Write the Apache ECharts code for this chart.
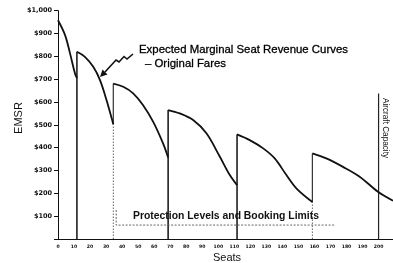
<!DOCTYPE html>
<html>
<head>
<meta charset="utf-8">
<script src="https://cdn.jsdelivr.net/npm/echarts@6/dist/echarts.min.js"></script>
<style>html,body{margin:0;padding:0;background:#fff;}#c{width:393px;height:263px;}</style>
</head>
<body>
<div id="c"></div>
<script>
// Sawtooth EMSR curve segments (seats, EMSR $)
var seg1Seats = [0, 4.4, 7.5, 10.6, 11.8];
var seg1Emsr  = [958, 893, 813, 725, 705];
var seg2Seats = [11.8, 16.8, 22, 26.2, 30.3, 33.8, 34.5];
var seg2Emsr  = [820, 798, 754, 696, 608, 521, 503];
var seg3Seats = [34.5, 40.7, 46.9, 53.1, 59.4, 65.6, 68.7];
var seg3Emsr  = [681, 667, 638, 586, 513, 418, 357];
var seg4Seats = [68.7, 76, 84.3, 92.6, 101, 107.2, 111.7];
var seg4Emsr  = [565, 550, 521, 463, 360, 280, 236];
var seg5Seats = [111.7, 119.6, 128, 135.2, 142.5, 148.7, 158.7];
var seg5Emsr  = [458, 433, 397, 353, 280, 222, 162];
var seg6Seats = [158.7, 167.4, 177.8, 188.2, 199.6, 209];
var seg6Emsr  = [375, 353, 316, 273, 207, 168];

// Protection level vertical lines (seat, top value, dotted?)
var protSeats  = [11.8, 34.5, 68.7, 111.7, 158.7];
var protTops   = [820, 503, 565, 458, 162];
var protDotted = [false, true, false, false, true];
// Solid vertical jumps where the protection line is dotted (seat, from, to)
var jumpSeats = [34.5, 158.7];
var jumpFrom  = [503, 162];
var jumpTo    = [681, 375];
var capacitySeat = 200;
var capacityTop = 637;
// Bracket for "Protection Levels and Booking Limits"
var bracketStartSeat = 36.3;
var bracketEndSeat = 172.6;
var bracketLevel = 61;
var bracketTickTop = 127;

function pairs(xs, ys){ return xs.map(function(x,i){ return [x, ys[i]]; }); }
var segs = [
  pairs(seg1Seats, seg1Emsr), pairs(seg2Seats, seg2Emsr), pairs(seg3Seats, seg3Emsr),
  pairs(seg4Seats, seg4Emsr), pairs(seg5Seats, seg5Emsr), pairs(seg6Seats, seg6Emsr)];

var series = [];
segs.forEach(function(d){
  series.push({
    type: 'line', data: d, symbol: 'none', clip: true, smooth: 0.35,
    lineStyle: { color: '#111', width: 1.8 }, z: 5, animation: false
  });
});
protSeats.forEach(function(s, i){
  series.push({
    type: 'line', data: [[s, 0], [s, protTops[i]]], symbol: 'none', animation: false,
    lineStyle: protDotted[i] ? { color: '#666', width: 1, type: [1.5, 1.5] } : { color: '#111', width: 1.5 }
  });
});
jumpSeats.forEach(function(s, i){
  series.push({
    type: 'line', data: [[s, jumpFrom[i]], [s, jumpTo[i]]], symbol: 'none', animation: false,
    lineStyle: { color: '#333', width: 1.2 }
  });
});
series.push({
  type: 'line', data: [[capacitySeat, 0], [capacitySeat, capacityTop]], symbol: 'none', animation: false,
  lineStyle: { color: '#222', width: 1.2 }
});
series.push({
  type: 'line', data: [[bracketStartSeat, bracketTickTop], [bracketStartSeat, bracketLevel], [bracketEndSeat, bracketLevel]],
  symbol: 'none', animation: false, lineStyle: { color: '#666', width: 1, type: [2, 1.5] }
});

var chart = echarts.init(document.getElementById('c'), null, { renderer: 'canvas' });
chart.setOption({
  animation: false,
  backgroundColor: '#fff',
  grid: { left: 58, right: 0, top: 10.7, bottom: 24 },
  xAxis: {
    type: 'value', min: 0, max: 209, interval: 10,
    axisLine: { show: true, lineStyle: { color: '#111', width: 1 } },
    axisTick: { show: false },
    splitLine: { show: false },
    axisLabel: { showMaxLabel: false, margin: 5, color: '#111', fontFamily: 'DejaVu Sans', fontWeight: 'bold', fontSize: 4.6 }
  },
  yAxis: {
    type: 'value', min: 0, max: 1000, interval: 100,
    axisLine: { show: true, lineStyle: { color: '#111', width: 1 } },
    axisTick: { show: true, length: 4, lineStyle: { color: '#111' } },
    splitLine: { show: false },
    axisLabel: {
      margin: 6, color: '#111', fontFamily: 'DejaVu Sans', fontWeight: 'bold', fontSize: 6.5,
      formatter: function(v){ if (v === 0) return ''; return '$' + (v >= 1000 ? '1,000' : v); }
    }
  },
  series: series,
  graphic: [
    { type: 'text', x: 19, y: 118, rotation: Math.PI/2, style: { text: 'EMSR', font: '11px "Liberation Sans"', fill: '#111', align: 'center', verticalAlign: 'middle' } },
    { type: 'text', x: 227, y: 257.5, style: { text: 'Seats', font: '11px "Liberation Sans"', fill: '#111', align: 'center', verticalAlign: 'middle' } },
    { type: 'text', x: 139, y: 50, style: { text: 'Expected Marginal Seat Revenue Curves', font: '11.4px "Liberation Sans"', fill: '#000', stroke: '#000', lineWidth: 0.3, align: 'left', verticalAlign: 'middle' } },
    { type: 'text', x: 145, y: 64, style: { text: '\u2013 Original Fares', font: '11.4px "Liberation Sans"', fill: '#000', stroke: '#000', lineWidth: 0.3, align: 'left', verticalAlign: 'middle' } },
    { type: 'text', x: 133, y: 216.5, style: { text: 'Protection Levels and Booking Limits', font: 'bold 10.4px "Liberation Sans"', fill: '#111', align: 'left', verticalAlign: 'middle' } },
    { type: 'text', x: 385, y: 128, rotation: -Math.PI/2, style: { text: 'Aircraft Capacity', font: '8.2px "Liberation Sans"', fill: '#111', align: 'center', verticalAlign: 'middle' } },
    { type: 'polyline', shape: { points: [[133,54],[127,59],[124,56.5],[119,62],[116,60],[105,72]] }, style: { stroke: '#111', lineWidth: 1.6, fill: null } },
    { type: 'polygon', shape: { points: [[100,77],[102.5,69.5],[107.5,74.5]] }, style: { fill: '#111' } }
  ]
});
</script>
</body>
</html>
